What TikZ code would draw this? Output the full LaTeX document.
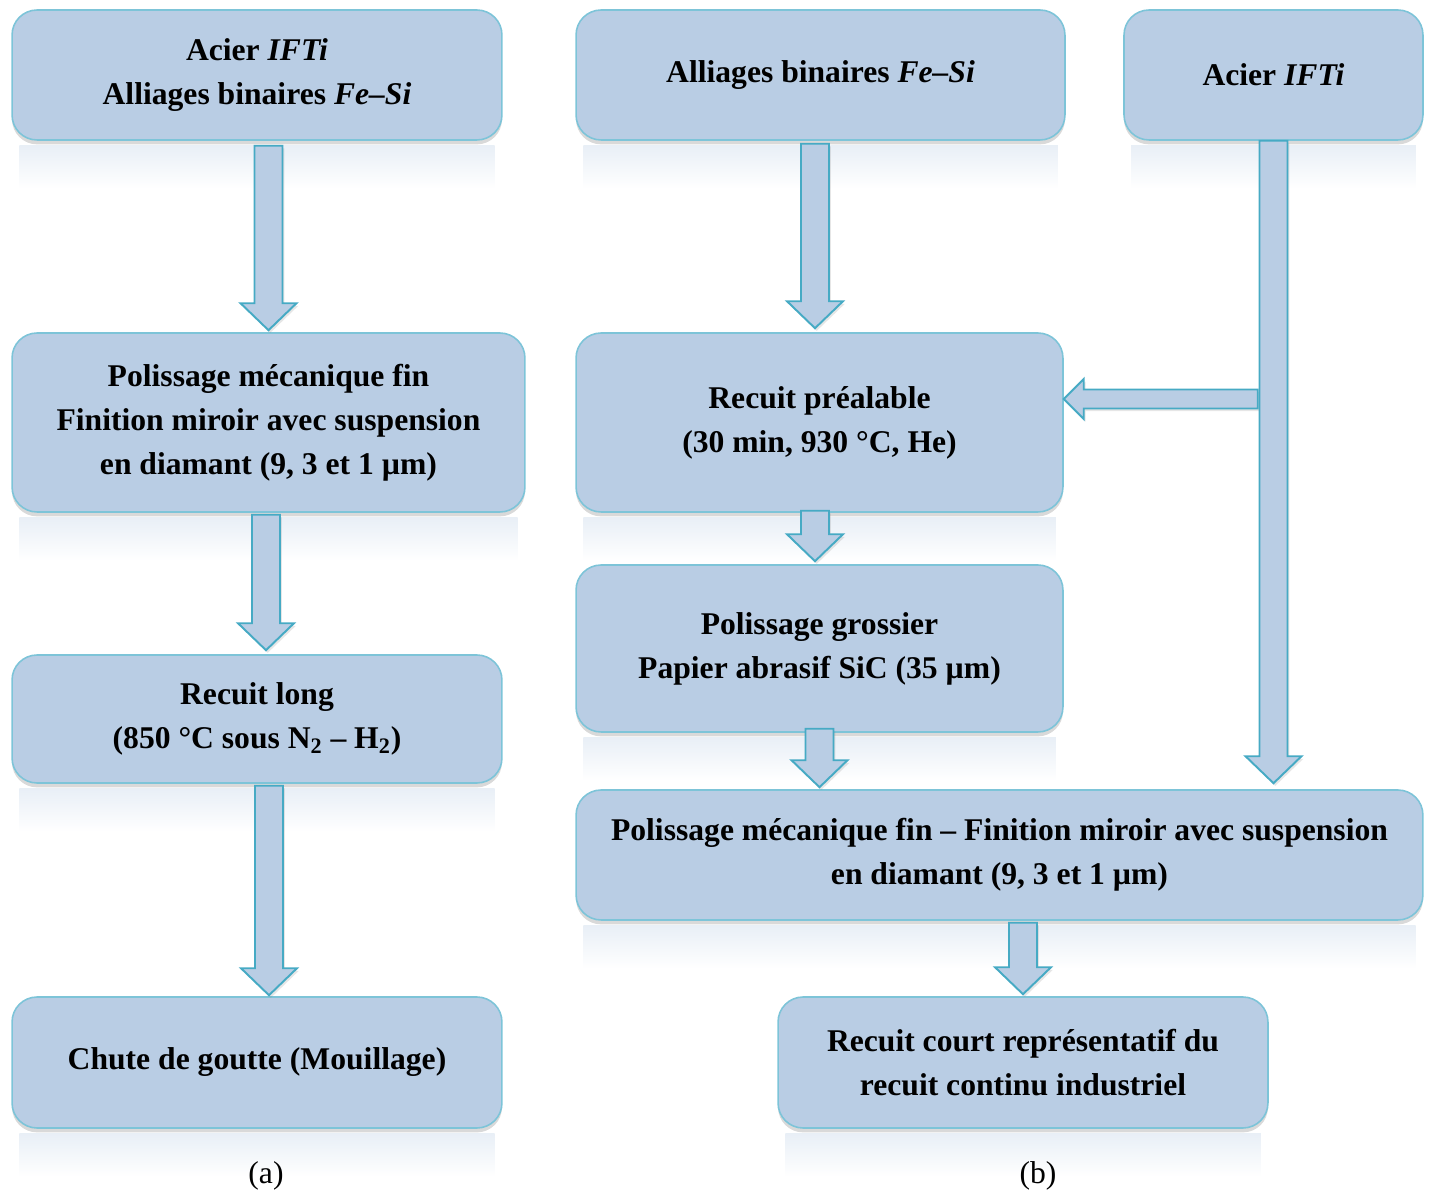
\documentclass[tikz,border=0pt]{standalone}
\usepackage{fontspec}
\setmainfont{Liberation Serif}
\usetikzlibrary{calc,shadows,backgrounds}
\definecolor{boitefond}{RGB}{185,205,228}
\definecolor{boitebord}{RGB}{125,196,216}
\definecolor{flechebord}{RGB}{70,170,196}
\tikzset{
  etape/.style={draw=boitebord, fill=boitefond, line width=0.9pt, rounded corners=0.5cm,
    inner sep=0pt, align=center, font=\bfseries\fontsize{18}{25}\selectfont,
    drop shadow={shadow xshift=0pt, shadow yshift=-2.5pt, opacity=0.3}},
  fleche/.style={draw=flechebord, fill=boitefond, line width=1.1pt, line join=miter,
    drop shadow={shadow xshift=1pt, shadow yshift=-1.5pt, opacity=0.2}},
  legende/.style={font=\fontsize{18}{22}\selectfont}
}
% fleche bloc de #1 vers #2
\def\fsw{0.28cm} \def\fhw{0.56cm} \def\fhl{0.54cm}
\newcommand{\fleche}[2]{%
  \path (#1) coordinate (fS) (#2) coordinate (fT);
  \path ($(fT)!\fhl!(fS)$) coordinate (fH);
  \draw[fleche] ($(fS)!\fsw!90:(fT)$) -- ($(fH)!\fsw!90:(fT)$) -- ($(fH)!\fhw!90:(fT)$)
    -- (fT) -- ($(fH)!\fhw!-90:(fT)$) -- ($(fH)!\fsw!-90:(fT)$) -- ($(fS)!\fsw!-90:(fT)$) -- cycle;}
\begin{document}
\begin{tikzpicture}[x=0.02cm, y=-0.02cm]
  \useasboundingbox (0,0) rectangle (1431,1195);
  % (a)
  \node[etape, minimum width=9.8cm, minimum height=2.6cm] (A1) at (257,75)
    {Acier \textit{IFTi}\\Alliages binaires \textit{Fe–Si}};
  \node[etape, minimum width=10.26cm, minimum height=3.58cm] (A2) at (268.5,422.5)
    {Polissage mécanique fin\\Finition miroir avec suspension\\en diamant (9, 3 et 1 µm)};
  \node[etape, minimum width=9.8cm, minimum height=2.56cm] (A3) at (257,719)
    {Recuit long\\(850 °C sous N\textsubscript{2} – H\textsubscript{2})};
  \node[etape, minimum width=9.8cm, minimum height=2.62cm] (A4) at (257,1062.5)
    {Chute de goutte (Mouillage)};
  % (b)
  \node[etape, minimum width=9.78cm, minimum height=2.6cm] (B1) at (820.5,75)
    {Alliages binaires \textit{Fe–Si}};
  \node[etape, minimum width=5.98cm, minimum height=2.6cm] (B2) at (1273.5,75)
    {Acier \textit{IFTi}};
  \node[etape, minimum width=9.74cm, minimum height=3.58cm] (B3) at (819.5,422.5)
    {Recuit préalable\\(30 min, 930 °C, He)};
  \node[etape, minimum width=9.74cm, minimum height=3.34cm] (B4) at (819.5,648.5)
    {Polissage grossier\\Papier abrasif SiC (35 µm)};
  \node[etape, minimum width=16.94cm, minimum height=2.6cm] (B5) at (999.5,855)
    {Polissage mécanique fin – Finition miroir avec suspension\\en diamant (9, 3 et 1 µm)};
  \node[etape, minimum width=9.8cm, minimum height=2.62cm] (B6) at (1023,1062.5)
    {Recuit court représentatif du\\recuit continu industriel};
  \node[legende] (la) at (266,1176) {(a)};
  \node[legende] (lb) at (1038,1176) {(b)};
  % reflets
  \begin{scope}[on background layer]
    \foreach \n in {A1,A2,A3,A4,B1,B2,B3,B4,B5,B6}
      \shade[top color=boitefond!32, bottom color=white]
        ($(\n.south west)+(8,5)$) rectangle ($(\n.south east)+(-8,48)$);
  \end{scope}
  % fleches
  \fleche{$(A1.south)+(11.5,5)$}{$(A2.north)+(0,-2)$}
  \fleche{$(A2.south)+(-2.5,2)$}{$(A3.north)+(9,-4)$}
  \fleche{$(A3.south)+(12,2)$}{$(A4.north)+(12,-1)$}
  \fleche{$(B1.south)+(-5.5,3)$}{$(B3.north)+(-4.5,-4)$}
  \fleche{$(B3.south)+(-4.5,-2)$}{$(B4.north)+(-4.5,-3)$}
  \fleche{$(B4.south)+(0,-4)$}{$(B4.south |- B5.north)+(0,-2)$}
  \coordinate (branche) at ($(B3.east)+(194,-23.5)$);
  \begin{scope}
    \def\fsw{0.19cm} \def\fhw{0.4cm} \def\fhl{0.4cm}
    \fleche{branche}{$(B3.east)+(0,-23.5)$}
  \end{scope}
  \fleche{B2.south}{$(B2.south |- B5.north)+(0,-6)$}
  \fleche{$(B6.north |- B5.south)+(0,2)$}{$(B6.north)+(0,-2)$}
\end{tikzpicture}
\end{document}
